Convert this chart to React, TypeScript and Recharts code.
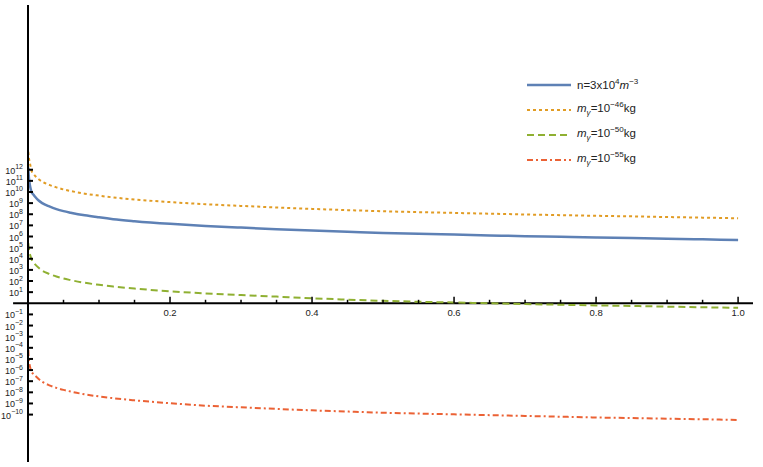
import React from 'react';
import { LineChart, Line, XAxis, YAxis, ReferenceLine, ReferenceDot, Legend } from 'recharts';

// x positions (fraction)
const xs = [0.0004, 0.001, 0.002, 0.003, 0.005, 0.0075, 0.01, 0.015, 0.02, 0.03, 0.04, 0.05, 0.06, 0.08, 0.1, 0.12, 0.15, 0.2, 0.25, 0.3, 0.35, 0.4, 0.45, 0.5, 0.55, 0.6, 0.65, 0.7, 0.75, 0.8, 0.85, 0.9, 0.95, 1.0];
// log10 of values
const blueLog = [12.2, 11.5, 10.9, 10.5, 10.0, 9.78, 9.57, 9.23, 9.0, 8.7, 8.46, 8.28, 8.14, 7.9, 7.72, 7.56, 7.38, 7.14, 6.95, 6.8, 6.66, 6.53, 6.42, 6.32, 6.24, 6.17, 6.1, 6.03, 5.97, 5.91, 5.86, 5.8, 5.745, 5.69];
const orangeLog = [13.6, 13.2, 12.8, 12.5, 11.9, 11.65, 11.45, 11.15, 10.93, 10.64, 10.41, 10.23, 10.09, 9.85, 9.67, 9.51, 9.33, 9.09, 8.9, 8.75, 8.61, 8.48, 8.37, 8.27, 8.19, 8.12, 8.05, 7.98, 7.92, 7.86, 7.81, 7.75, 7.695, 7.64];
const greenLog = [5.4, 5.0, 4.6, 4.35, 3.94, 3.7, 3.5, 3.19, 2.94, 2.64, 2.4, 2.22, 2.08, 1.84, 1.66, 1.5, 1.32, 1.08, 0.89, 0.74, 0.6, 0.45, 0.33, 0.22, 0.14, 0.07, 0.0, -0.07, -0.13, -0.19, -0.24, -0.3, -0.355, -0.41];
const redLog = [-4.2, -4.9, -5.4, -5.75, -6.15, -6.35, -6.5, -6.8, -7.05, -7.37, -7.6, -7.78, -7.93, -8.18, -8.37, -8.53, -8.72, -8.98, -9.2, -9.35, -9.49, -9.62, -9.73, -9.83, -9.91, -9.98, -10.05, -10.12, -10.19, -10.26, -10.31, -10.37, -10.42, -10.48];

const yTickExponents = [-10, -9, -8, -7, -6, -5, -4, -3, -2, -1, 1, 2, 3, 4, 5, 6, 7, 8, 9, 10, 11, 12];
const xMajorTicks = [0.2, 0.4, 0.6, 0.8, 1.0];
const xMajorLabels = ['0.2', '0.4', '0.6', '0.8', '1.0'];
const xMinorTicks = [0.05, 0.1, 0.15, 0.25, 0.3, 0.35, 0.45, 0.5, 0.55, 0.65, 0.7, 0.75, 0.85, 0.9, 0.95];

const seriesKeys = ['blue', 'orange', 'green', 'red'];
const seriesColors = ['#5E81B5', '#E19C24', '#8FB032', '#EB6235'];
const seriesDash = ['', '3 3', '7 4', '6 3 2 3'];
const seriesWidth = [2.5, 2, 2, 2];
const massExponents = [-46, -50, -55];

const data = xs.map((x, i) => ({
  x,
  blue: blueLog[i],
  orange: orangeLog[i],
  green: greenLog[i],
  red: redLog[i],
}));

const FONT = '"Liberation Sans", Arial, sans-serif';
const minus = (n: number) => (n < 0 ? '\u2212' + Math.abs(n) : String(n));

const renderYTick = (props: any) => {
  const { x, y, payload } = props;
  return (
    <g>
      <line x1={x} x2={x + 5} y1={y} y2={y} stroke="#000" strokeWidth={2} />
      <text x={x - 5} y={y + 4} textAnchor="end" fontFamily={FONT} fontSize={9} fill="#222">
        10
        <tspan dy={-4.5} fontSize={7}>
          {minus(payload.value)}
        </tspan>
      </text>
    </g>
  );
};

const makeXTick = (len: number, label?: string) => (p: any) => (
  <g>
    <line x1={p.cx} x2={p.cx} y1={p.cy} y2={p.cy - len} stroke="#000" strokeWidth={1.5} />
    {label ? (
      <text x={p.cx} y={p.cy + 13} textAnchor="middle" fontFamily={FONT} fontSize={9.5} fill="#222">
        {label}
      </text>
    ) : null}
  </g>
);

const legendLabel = (i: number) => {
  if (i === 0) {
    return (
      <span>
        n=3x10<sup style={{ fontSize: '0.7em' }}>4</sup>
        <i>m</i>
        <sup style={{ fontSize: '0.7em' }}>{minus(-3)}</sup>
      </span>
    );
  }
  return (
    <span>
      <i>m</i>
      <sub style={{ fontSize: '0.7em' }}>
        <i>γ</i>
      </sub>
      =10<sup style={{ fontSize: '0.7em' }}>{minus(massExponents[i - 1])}</sup>kg
    </span>
  );
};

const renderLegend = () => (
  <div style={{ fontFamily: FONT, fontSize: 11.5, color: '#222' }}>
    {seriesKeys.map((k, i) => (
      <div key={k} style={{ height: 25, display: 'flex', alignItems: 'center' }}>
        <svg width={44} height={6} style={{ display: 'block' }}>
          <line
            x1={0}
            x2={44}
            y1={3}
            y2={3}
            stroke={seriesColors[i]}
            strokeWidth={seriesWidth[i]}
            strokeDasharray={seriesDash[i] || undefined}
          />
        </svg>
        <span style={{ marginLeft: 6, lineHeight: 1 }}>{legendLabel(i)}</span>
      </div>
    ))}
  </div>
);

export default function App() {
  return (
    <div style={{ position: 'absolute', left: 0, top: 0, background: '#fff' }}>
      <LineChart width={763} height={467} data={data} margin={{ top: 5, right: 10, bottom: 5, left: 0 }}>
        <XAxis type="number" dataKey="x" domain={[0, 1.021]} allowDataOverflow hide />
        <YAxis
          type="number"
          domain={[-14.26, 26.8]}
          allowDataOverflow
          ticks={yTickExponents}
          interval={0}
          tickSize={0}
          tickMargin={0}
          tickLine={false}
          tick={renderYTick}
          axisLine={{ stroke: '#000', strokeWidth: 2 }}
          width={28}
        />
        <ReferenceLine
          segment={[{ x: -0.021, y: 0 }, { x: 1.021, y: 0 }]}
          stroke="#000"
          strokeWidth={2}
          ifOverflow="visible"
        />
        {xMinorTicks.map((t) => (
          <ReferenceDot key={'mi' + t} x={t} y={0} r={0} ifOverflow="visible" shape={makeXTick(3.5)} />
        ))}
        {xMajorTicks.map((t, i) => (
          <ReferenceDot key={'ma' + t} x={t} y={0} r={0} ifOverflow="visible" shape={makeXTick(6.5, xMajorLabels[i])} />
        ))}
        {seriesKeys.map((k, i) => (
          <Line
            key={k}
            type="monotone"
            dataKey={k}
            stroke={seriesColors[i]}
            strokeWidth={seriesWidth[i]}
            strokeDasharray={seriesDash[i] || undefined}
            dot={false}
            activeDot={false}
            isAnimationActive={false}
          />
        ))}
        <Legend
          layout="vertical"
          align="center"
          verticalAlign="middle"
          content={renderLegend}
          wrapperStyle={{ left: 527, top: 72, width: 200, height: 100 }}
        />
      </LineChart>
    </div>
  );
}
